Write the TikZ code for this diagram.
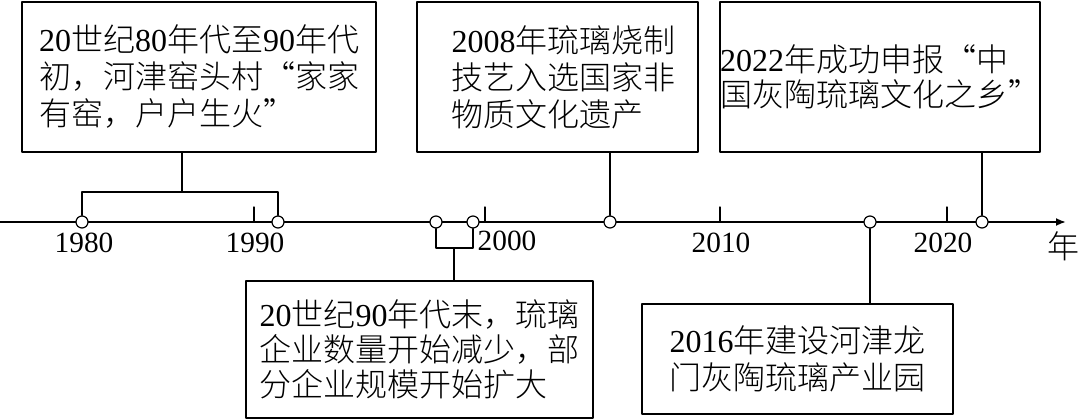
\documentclass[tikz,border=0pt]{standalone}
\usepackage{fontspec}
\setmainfont{Liberation Serif}
\newfontfamily\cjk{Noto Sans CJK SC Light}
\newcommand\nm[1]{{\rmfamily #1}}
\usetikzlibrary{arrows.meta}
\begin{document}
\begin{tikzpicture}[x=.75pt,y=-.75pt,>={Latex[length=7.5pt,width=6pt]},line join=round,line cap=round,
  font=\fontsize{24}{27.75}\selectfont\cjk,
  hop/.style={draw,line width=.9pt,align=left,inner sep=0pt},
  dot/.style={circle,draw,fill=white,line width=.9pt,inner sep=0pt,minimum size=9pt},
  nam/.style={font=\fontsize{22}{24}\selectfont\rmfamily}]
\useasboundingbox (0,0) rectangle (1080,420);
\def\ay{222} % trục
% trục thời gian
\coordinate (s) at (0,\ay);
\coordinate (e) at (1066,\ay);
\draw[->,line width=1.4pt] (s)--(e);
\node (nam) at (1063,246) {年};
\foreach \x in {254,485,720,947} \draw[line width=1pt] (\x,\ay)--(\x,\ay-15);
\node[nam] (n1980) at (84,243) {1980};
\node[nam] (n1990) at (255,243) {1990};
\node[nam] (n2000) at (507,241) {2000};
\node[nam] (n2010) at (721,243) {2010};
\node[nam] (n2020) at (943,243) {2020};
% các mốc
\node[dot] (d80) at (82,\ay) {};
\node[dot] (d90) at (278,\ay) {};
\node[dot] (d97) at (436,\ay) {};
\node[dot] (d99) at (473,\ay) {};
\node[dot] (d08) at (610,\ay) {};
\node[dot] (d16) at (870,\ay) {};
\node[dot] (d22) at (982,\ay) {};
% các khung
\node[hop,minimum width=265.5pt,minimum height=112.5pt] (e80) at (199,77)
  {\nm{20}世纪\nm{80}年代至\nm{90}年代\\初，河津窑头村“家家\\有窑，户户生火”};
\node[hop,minimum width=210.75pt,minimum height=112.5pt] (e08) at (557.5,77)
  {\hspace*{9pt}\nm{2008}年琉璃烧制\\\hspace*{9pt}技艺入选国家非\\\hspace*{9pt}物质文化遗产};
\node[hop,minimum width=235.5pt,minimum height=112.5pt,font=\fontsize{24}{26.5}\selectfont\cjk] (e22) at (880,77)
  {\nm{2022}年成功申报“中\\国灰陶琉璃文化之乡”};
\node[hop,minimum width=260.25pt,minimum height=102.75pt,font=\fontsize{24}{26.25}\selectfont\cjk] (e97) at (419.5,349.5)
  {\nm{20}世纪\nm{90}年代末，琉璃\\企业数量开始减少，部\\分企业规模开始扩大};
\node[hop,minimum width=233.25pt,minimum height=82.5pt] (e16) at (797.5,359)
  {\nm{2016}年建设河津龙\\门灰陶琉璃产业园};
% nối
\coordinate (b1) at (182,192);
\coordinate (b2) at (454,248);
\draw[line width=.9pt] (d80.north) |- (b1) -| (d90.north);
\draw[line width=.9pt] (b1)--(e80.south -| b1);
\draw[line width=.9pt] (d97.south) |- (b2) -| (d99.south);
\draw[line width=.9pt] (b2)--(e97.north -| b2);
\draw[line width=.9pt] (d08.north)--(e08.south -| d08);
\draw[line width=.9pt] (d22.north)--(e22.south -| d22);
\draw[line width=.9pt] (d16.south)--(e16.north -| d16);
\end{tikzpicture}
\end{document}
